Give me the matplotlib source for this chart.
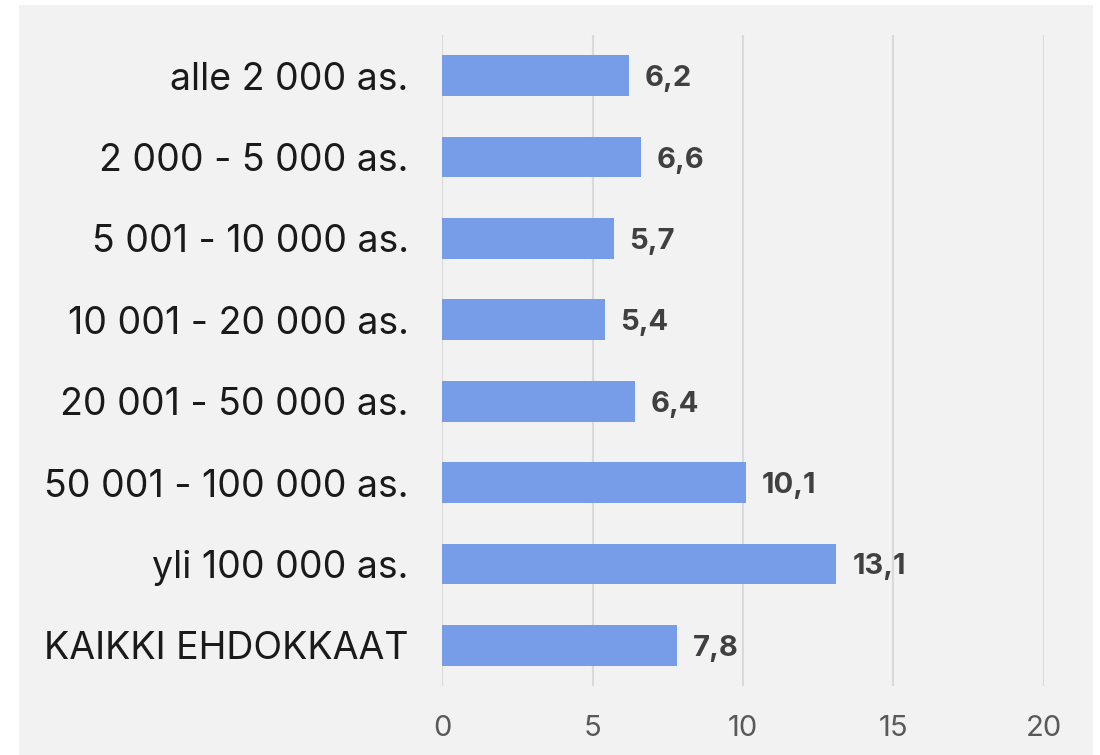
import matplotlib
matplotlib.use("Agg")
import matplotlib.pyplot as plt
from matplotlib.patches import Rectangle

categories = ["alle 2 000 as.", "2 000 - 5 000 as.", "5 001 - 10 000 as.",
              "10 001 - 20 000 as.", "20 001 - 50 000 as.", "50 001 - 100 000 as.",
              "yli 100 000 as.", "KAIKKI EHDOKKAAT"]
values = [6.2, 6.6, 5.7, 5.4, 6.4, 10.1, 13.1, 7.8]
value_labels = ["6,2", "6,6", "5,7", "5,4", "6,4", "10,1", "13,1", "7,8"]
xticks = [0, 5, 10, 15, 20]

plt.rcParams['font.family'] = ['Inter', 'DejaVu Sans']

fig = plt.figure(figsize=(11, 7.55), dpi=100)
fig.patch.set_facecolor("white")
fig.patches.append(Rectangle((19/1100, 0), (1093-19)/1100, 750/755,
                             transform=fig.transFigure, facecolor="#f2f2f2",
                             edgecolor="none", zorder=-10))

ax = fig.add_axes([442/1100, 69/755, (1044-442)/1100, (686-35)/755])
ax.set_facecolor("none")

y = list(range(len(categories)))
ax.barh(y, values, height=0.5, color="#779ce8", zorder=3)
ax.set_ylim(len(categories) - 0.5, -0.5)
ax.set_xlim(0, 20)
ax.set_xticks(xticks)
ax.set_xticklabels([str(t) for t in xticks])
ax.set_yticks(y)
ax.set_yticklabels(categories)

for s in ax.spines.values():
    s.set_visible(False)
ax.grid(axis="x", color="#d9d9d9", linewidth=1.5, zorder=0)
ax.tick_params(axis="x", length=0, pad=21, labelsize=21, labelcolor="#595959")
ax.tick_params(axis="y", length=0, pad=24, labelsize=27, labelcolor="#1a1a1a")

for yi, v, lab in zip(y, values, value_labels):
    ax.annotate(lab, (v, yi), xytext=(16, -3), textcoords="offset pixels",
                va="center", ha="left", fontsize=21, fontweight="bold",
                color="#404040")

fig.savefig("out.png", dpi=100)
